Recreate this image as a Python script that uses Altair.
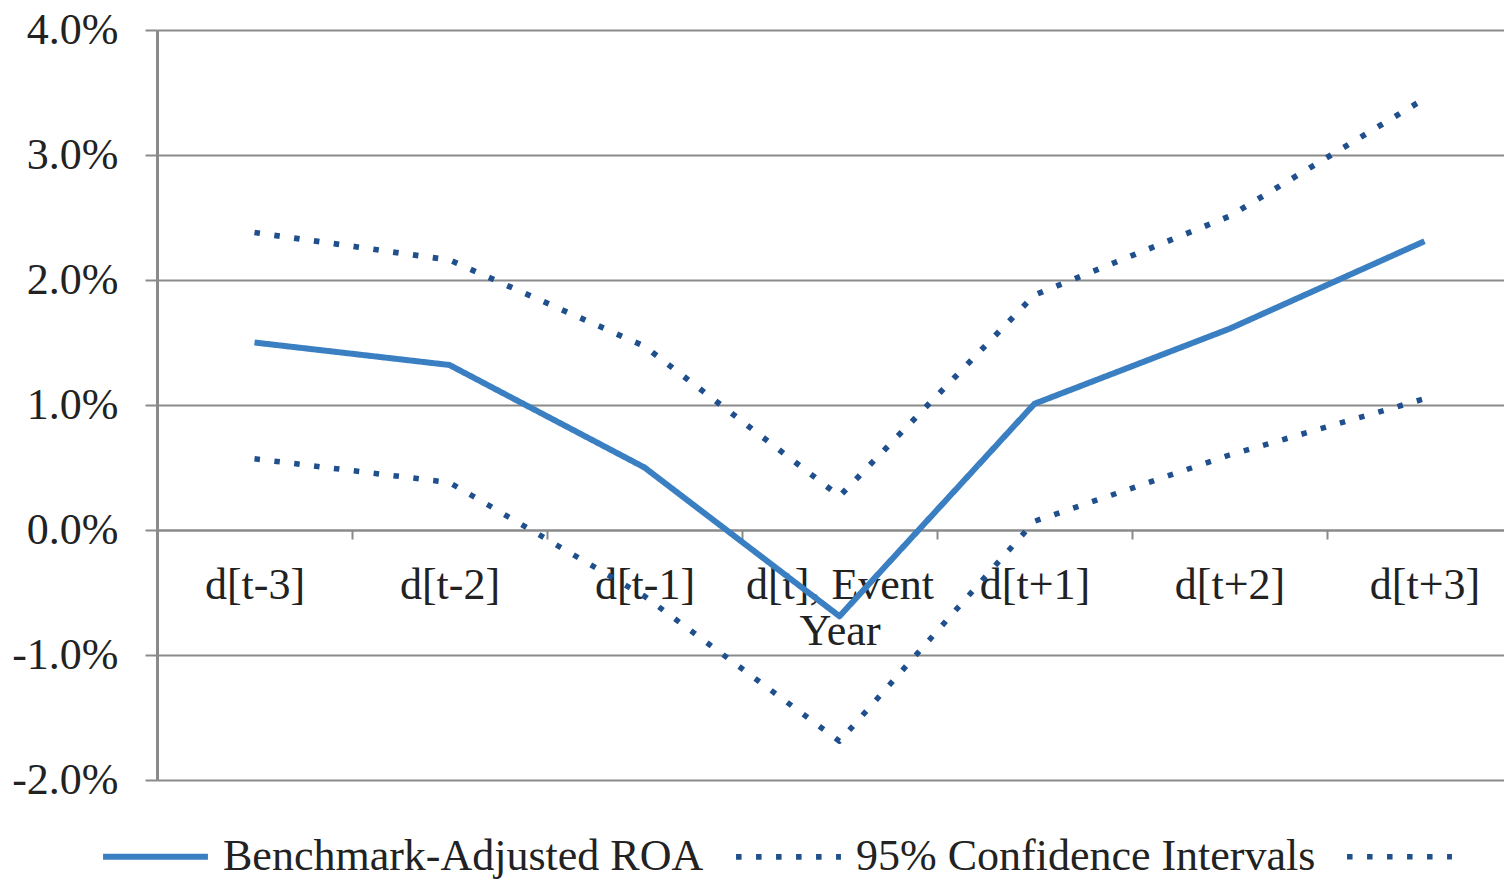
import altair as alt
import pandas as pd

categories = ["d[t-3]", "d[t-2]", "d[t-1]", "d[t], Event Year", "d[t+1]", "d[t+2]", "d[t+3]"]
roa = [0.0150, 0.0132, 0.0050, -0.0069, 0.0101, 0.0161, 0.0231]
upper = [0.0238, 0.0216, 0.0147, 0.0027, 0.0188, 0.0251, 0.0345]
lower = [0.0057, 0.0038, -0.0053, -0.0169, 0.0007, 0.0060, 0.0105]
series_names = ["Benchmark-Adjusted ROA", "95% Confidence Intervals", " "]
y_ticks = [-0.02, -0.01, 0.0, 0.01, 0.02, 0.03, 0.04]

rows = []
for name, vals in zip(series_names, [roa, upper, lower]):
    for c, v in zip(categories, vals):
        rows.append({"period": c, "value": v, "series": name})
df = pd.DataFrame(rows)

FONT = "Liberation Serif"
FS = 44
PLOT_W = 1347
PLOT_H = 750
STEP = 195

legend_kw = dict(title=None, orient="none", direction="horizontal",
                 legendX=-57, legendY=771, symbolType="stroke",
                 symbolSize=11000, symbolStrokeWidth=5.5,
                 labelFont=FONT, labelFontSize=FS, labelColor="#222222",
                 labelOffset=12, columnPadding=20, labelLimit=800, padding=0)

chart = alt.Chart(df).mark_line(strokeCap="butt", strokeJoin="round").encode(
    x=alt.X("period:N", sort=categories,
            scale=alt.Scale(type="band", domain=categories, paddingInner=0, paddingOuter=0,
                            range=[0, STEP * len(categories)]),
            axis=alt.Axis(title=None, orient="bottom", offset=-PLOT_H / 3, tickBand="extent",
                          grid=False, domain=True, domainColor="#8a8a8a", domainWidth=2,
                          ticks=True, tickColor="#8a8a8a", tickWidth=2, tickSize=9,
                          labelFont=FONT, labelFontSize=FS, labelColor="#222222",
                          labelPadding=24, labelBaseline="top", labelAngle=0,
                          labelLineHeight=46, labelLimit=400,
                          labelExpr="datum.label == 'd[t], Event Year' ? ['d[t], Event', 'Year'] : datum.label")),
    y=alt.Y("value:Q",
            scale=alt.Scale(domain=[-0.02, 0.04], nice=False, zero=False),
            axis=alt.Axis(title=None, values=y_ticks, format=".1%", grid=True,
                          gridColor="#8a8a8a", gridWidth=2,
                          domain=True, domainColor="#8a8a8a", domainWidth=3,
                          ticks=True, tickColor="#8a8a8a", tickWidth=2, tickSize=12,
                          labelFont=FONT, labelFontSize=FS, labelColor="#222222",
                          labelPadding=27, labelBaseline="middle",
                          labelExpr="replace(datum.label, '\u2212', '-')")),
    color=alt.Color("series:N",
                    scale=alt.Scale(domain=series_names, range=["#3a7fc1", "#1f4f8c", "#1f4f8c"]),
                    legend=alt.Legend(**legend_kw)),
    strokeDash=alt.StrokeDash("series:N",
                              scale=alt.Scale(domain=series_names, range=[[1, 0], [5.5, 14.5], [5.5, 14.5]]),
                              legend=alt.Legend(**legend_kw)),
    strokeWidth=alt.StrokeWidth("series:N",
                                scale=alt.Scale(domain=series_names, range=[6, 5.5, 5.5]),
                                legend=None),
    order=alt.Order("period_order:Q"),
).transform_calculate(
    period_order="indexof(" + str(categories).replace("'", '"') + ", datum.period)"
).properties(
    width=PLOT_W,
    height=PLOT_H,
    autosize=alt.AutoSizeParams(type="none"),
    padding={"left": 149, "top": 22, "right": 0, "bottom": 100},
).configure_view(stroke=None).configure(background="white")

chart.save("out.html", embed_options={"renderer": "svg", "actions": False})
